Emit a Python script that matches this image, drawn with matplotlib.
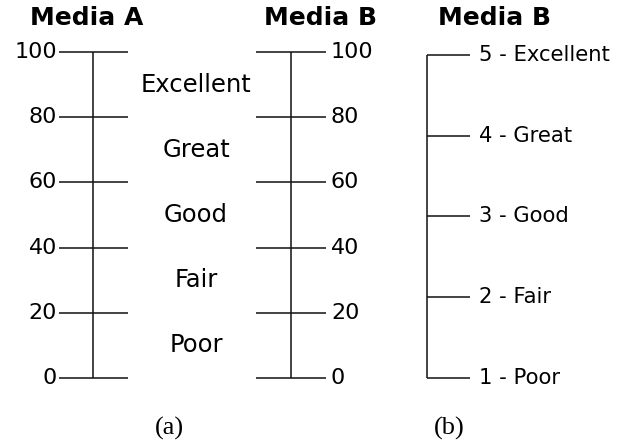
import matplotlib.pyplot as plt

# rating scale data
scaleValues = [0, 20, 40, 60, 80, 100]
bandLabels = ["Poor", "Fair", "Good", "Great", "Excellent"]
levelValues = [1, 2, 3, 4, 5]
levelLabels = ["1 - Poor", "2 - Fair", "3 - Good", "4 - Great", "5 - Excellent"]
panelTitles = ["Media A", "Media B", "Media B"]
panelTags = ["(a)", "(b)"]

W, H = 621, 444
lineColor = "#111111"
lw = 1.1

plt.rcParams['font.family'] = ['DejaVu Sans']

fig = plt.figure(figsize=(W / 100, H / 100), dpi=100)

# axes spans pixel rows 52 (top value) to 378 (bottom value), x in pixels
ax = fig.add_axes([0, (H - 378) / H, 1, (378 - 52) / H])
ax.set_xlim(0, W)
ax.set_ylim(min(scaleValues), max(scaleValues))
ax.axis('off')

ax2 = fig.add_axes([0, (H - 378) / H, 1, (378 - 55) / H])
ax2.set_xlim(0, W)
ax2.set_ylim(min(levelValues), max(levelValues))
ax2.axis('off')

# scale A (labels on the left)
ax.vlines(93, min(scaleValues), max(scaleValues), color=lineColor, lw=lw, clip_on=False)
ax.hlines(scaleValues, 59, 128, color=lineColor, lw=lw, clip_on=False)
for v in scaleValues:
    ax.text(57, v, str(v), ha='right', va='center', fontsize=16)

# scale B (labels on the right)
ax.vlines(291, min(scaleValues), max(scaleValues), color=lineColor, lw=lw, clip_on=False)
ax.hlines(scaleValues, 256, 326, color=lineColor, lw=lw, clip_on=False)
for v in scaleValues:
    ax.text(331, v, str(v), ha='left', va='center', fontsize=16)

# band names between the two scales
for i in range(len(bandLabels)):
    mid = (scaleValues[i] + scaleValues[i + 1]) / 2
    ax.text(196, mid, bandLabels[i], ha='center', va='center', fontsize=17.5)

# scale (b), 5 levels
ax2.vlines(427, min(levelValues), max(levelValues), color=lineColor, lw=lw, clip_on=False)
ax2.hlines(levelValues, 427, 470, color=lineColor, lw=lw, clip_on=False)
for v, lab in zip(levelValues, levelLabels):
    ax2.text(479, v, lab, ha='left', va='center', fontsize=15.2)

# titles and panel tags
titleX = [87, 320, 494]
for x, t in zip(titleX, panelTitles):
    fig.text(x / W, 1 - 18 / H, t, ha='center', va='center', fontsize=18, fontweight='bold')

tagX = [169, 449]
for x, t in zip(tagX, panelTags):
    fig.text(x / W, 1 - 428 / H, t, ha='center', va='center', fontsize=19, family='Liberation Serif')

fig.savefig("out.png", dpi=100)
